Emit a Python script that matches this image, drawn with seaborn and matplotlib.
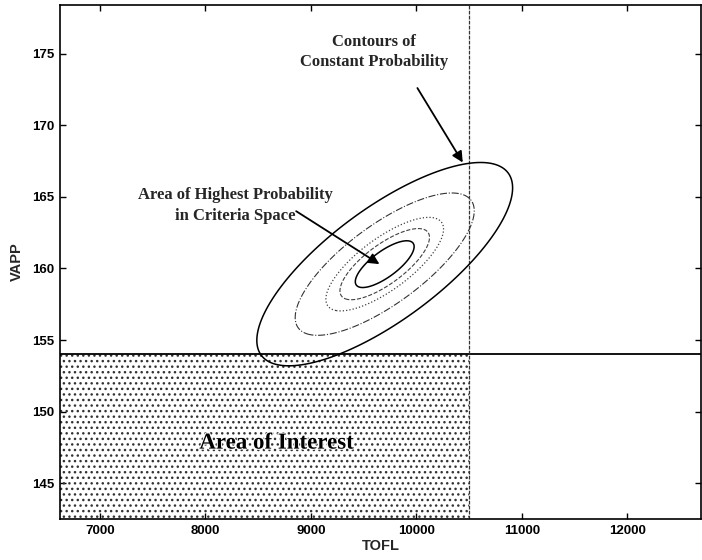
import numpy as np
import matplotlib.pyplot as plt
import matplotlib.patheffects as pe
import seaborn as sns

#############################################
# data
#############################################

# criteria space shown
tofl_range = [6620, 12700]
vapp_range = [142.5, 178.4]
tofl_ticks = [7000, 8000, 9000, 10000, 11000, 12000]
vapp_ticks = [145, 150, 155, 160, 165, 170, 175]

# constraint limits (area of interest = below / left of these)
tofl_limit = 10500
vapp_limit = 154

# joint distribution of the criteria (spread = outer contour)
tofl_mean = 9700
vapp_mean = 160.3
tofl_spread = 1213
vapp_spread = 7.1
corr = 0.75

# contours of constant probability, as fractions of the outer one
contour_levels = [0.23, 0.35, 0.46, 0.70, 1.0]
contour_styles = ['solid', 'dashed', 'dotted', 'dashdot', 'solid']
contour_widths = [1.1, 0.8, 0.9, 0.8, 1.1]
contour_colors = ['black', '0.25', '0.25', '0.2', 'black']

#############################################
# style
#############################################
sns.set_theme(style="ticks")
plt.rcParams['font.family'] = ['Liberation Sans', 'DejaVu Sans']
plt.rcParams['xtick.direction'] = 'in'
plt.rcParams['ytick.direction'] = 'in'
plt.rcParams['xtick.top'] = True
plt.rcParams['ytick.right'] = True
plt.rcParams['hatch.linewidth'] = 1.0
plt.rcParams['axes.edgecolor'] = 'black'

fig = plt.figure(figsize=(7.02, 5.6), dpi=100)
ax = fig.add_axes([60 / 702, 41 / 560, 641 / 702, 514 / 560])

#############################################
# area of interest
#############################################
ax.fill_between([tofl_range[0], tofl_limit], vapp_range[0], vapp_limit,
                facecolor='none', edgecolor='0.2', hatch='...', linewidth=0)
ax.axhline(vapp_limit, color='black', lw=1.3)
ax.axvline(tofl_limit, color='0.2', lw=0.9, linestyle=(0, (3, 1)))

#############################################
# probability contours
#############################################
tx = np.linspace(tofl_range[0], tofl_range[1], 600)
vy = np.linspace(vapp_range[0], vapp_range[1], 600)
X, Y = np.meshgrid(tx, vy)
zx = (X - tofl_mean) / tofl_spread
zy = (Y - vapp_mean) / vapp_spread
dist = np.sqrt((zx ** 2 - 2 * corr * zx * zy + zy ** 2) / (1 - corr ** 2))
ax.contour(X, Y, dist, levels=contour_levels, colors=contour_colors,
           linestyles=contour_styles, linewidths=contour_widths)

#############################################
# annotations
#############################################
serif = dict(family=['Liberation Serif', 'DejaVu Serif'], fontweight='bold')
arrow = dict(arrowstyle='-|>', color='black', lw=1.3, mutation_scale=16,
             shrinkA=0, shrinkB=0)

ax.text(9600, 175.1, "Contours of\nConstant Probability", ha='center',
        va='center', fontsize=12, linespacing=1.35, **serif)
ax.annotate("", xy=(10440, 167.4), xytext=(10010, 172.6), arrowprops=arrow)

ax.text(8280, 164.4, "Area of Highest Probability\nin Criteria Space",
        ha='center', va='center', fontsize=12, linespacing=1.35, **serif)
ax.annotate("", xy=(9650, 160.3), xytext=(8860, 164.0), arrowprops=arrow)

ax.text(8673, 147.8, "Area of Interest", ha='center', va='center',
        fontsize=16.5, color='black',
        path_effects=[pe.withStroke(linewidth=1.5, foreground='white')],
        **serif)

#############################################
# axes
#############################################
ax.set_xlim(tofl_range)
ax.set_ylim(vapp_range)
ax.set_xticks(tofl_ticks)
ax.set_yticks(vapp_ticks)
ax.tick_params(length=4, width=1, pad=4, labelsize=9.5, colors='black')
for lab in ax.get_xticklabels() + ax.get_yticklabels():
    lab.set_fontweight('bold')
for sp in ax.spines.values():
    sp.set_linewidth(1.2)

ax.set_xlabel("TOFL", fontsize=10.5, fontweight='bold', labelpad=2)
ax.set_ylabel("VAPP", fontsize=10.5, fontweight='bold', labelpad=6)

fig.savefig("out.png", dpi=100)
